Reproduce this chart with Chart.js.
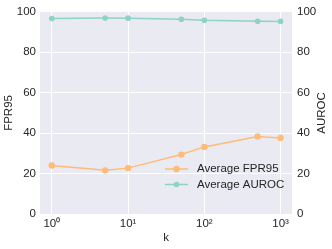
<!DOCTYPE html>
<html>
<head>
<meta charset="utf-8">
<script src="https://cdn.jsdelivr.net/npm/chart.js@4"></script>
<style>
  html, body { margin: 0; padding: 0; background: #fff; }
  #wrap { width: 332px; height: 249px; }
</style>
</head>
<body>
<div id="wrap"><canvas id="myChart"></canvas></div>
<script>
// datos
const ks = [1, 5, 10, 50, 100, 500, 1000];
const fpr95 = [24.0, 21.6, 22.7, 29.4, 33.2, 38.4, 37.6];
const auroc = [96.7, 97.0, 96.9, 96.4, 95.9, 95.4, 95.3];
const xTicks = [1, 10, 100, 1000];
const yTicks = [0, 20, 40, 60, 80, 100];
const supers = ["⁰", "¹", "²", "³"];

const orange = "#FFBB78";
const teal = "#8DD3C7";
const font = { family: "Liberation Sans, Arial, sans-serif", size: 11.5 };
const fontCss = "11.5px Liberation Sans, Arial, sans-serif";

// fondo gris del area del grafico
const bgPlugin = {
  id: "bg",
  beforeDraw(chart) {
    const { ctx, chartArea: a } = chart;
    ctx.save();
    ctx.fillStyle = "#EAEAF2";
    ctx.fillRect(a.left, a.top, a.right - a.left, a.bottom - a.top);
    ctx.restore();
  },
};

// leyenda dentro del area + titulo del eje derecho (de abajo hacia arriba)
const legendPlugin = {
  id: "legendIn",
  afterDatasetsDraw(chart) {
    const ctx = chart.ctx;
    const items = chart.data.datasets;
    ctx.save();
    items.forEach((ds, i) => {
      const y = 169 + i * 15.5;
      ctx.strokeStyle = ds.borderColor;
      ctx.lineWidth = 1.5;
      ctx.beginPath();
      ctx.moveTo(165, y);
      ctx.lineTo(188, y);
      ctx.stroke();
      ctx.fillStyle = ds.pointBackgroundColor;
      ctx.beginPath();
      ctx.arc(176.5, y, ds.pointRadius, 0, Math.PI * 2);
      ctx.fill();
      ctx.fillStyle = "#262626";
      ctx.font = fontCss;
      ctx.textBaseline = "middle";
      ctx.fillText(ds.label, 197, y);
    });
    const a = chart.chartArea;
    ctx.translate(322, (a.top + a.bottom) / 2);
    ctx.rotate(-Math.PI / 2);
    ctx.textAlign = "center";
    ctx.textBaseline = "middle";
    ctx.fillStyle = "#262626";
    ctx.font = fontCss;
    ctx.fillText("AUROC", 0, 0);
    ctx.restore();
  },
};

new Chart(document.getElementById("myChart"), {
  type: "line",
  data: {
    datasets: [
      {
        label: "Average FPR95",
        data: ks.map((k, i) => ({ x: k, y: fpr95[i] })),
        borderColor: orange,
        backgroundColor: orange,
        pointBackgroundColor: orange,
        pointBorderWidth: 0,
        pointRadius: 3.2,
        borderWidth: 1.5,
        yAxisID: "y",
      },
      {
        label: "Average AUROC",
        data: ks.map((k, i) => ({ x: k, y: auroc[i] })),
        borderColor: teal,
        backgroundColor: teal,
        pointBackgroundColor: teal,
        pointBorderWidth: 0,
        pointRadius: 2.8,
        borderWidth: 1.5,
        yAxisID: "y1",
      },
    ],
  },
  options: {
    responsive: true,
    maintainAspectRatio: false,
    animation: false,
    layout: { padding: { top: 10, left: 0, right: 0, bottom: 0 } },
    plugins: { legend: { display: false }, tooltip: { enabled: false } },
    scales: {
      x: {
        type: "logarithmic",
        min: Math.pow(10, -0.15),
        max: Math.pow(10, 3.15),
        afterBuildTicks(s) { s.ticks = xTicks.map(v => ({ value: v })); },
        afterFit(s) { s.height = 35; },
        ticks: {
          color: "#262626",
          font: font,
          padding: 3,
          maxRotation: 0,
          callback: (v) => "10" + supers[Math.round(Math.log10(v))],
        },
        grid: { color: "#fff", lineWidth: 1, drawTicks: false },
        border: { display: false },
        title: { display: true, text: "k", color: "#262626", font: font, padding: { top: 0, bottom: 4 } },
      },
      y: {
        position: "left",
        min: 0,
        max: 100,
        afterBuildTicks(s) { s.ticks = yTicks.map(v => ({ value: v })); },
        afterFit(s) { s.width = 40; },
        ticks: { color: "#262626", font: font, padding: 4 },
        grid: { color: "#fff", lineWidth: 1, drawTicks: false },
        border: { display: false },
        title: { display: true, text: "FPR95", color: "#262626", font: font, padding: { top: 2, bottom: 0 } },
      },
      y1: {
        position: "right",
        min: 0,
        max: 100,
        afterBuildTicks(s) { s.ticks = yTicks.map(v => ({ value: v })); },
        afterFit(s) { s.width = 40; },
        ticks: { color: "#262626", font: font, padding: 5 },
        grid: { display: false, drawTicks: false },
        border: { display: false },
        title: { display: false },
      },
    },
  },
  plugins: [bgPlugin, legendPlugin],
});
</script>
</body>
</html>
